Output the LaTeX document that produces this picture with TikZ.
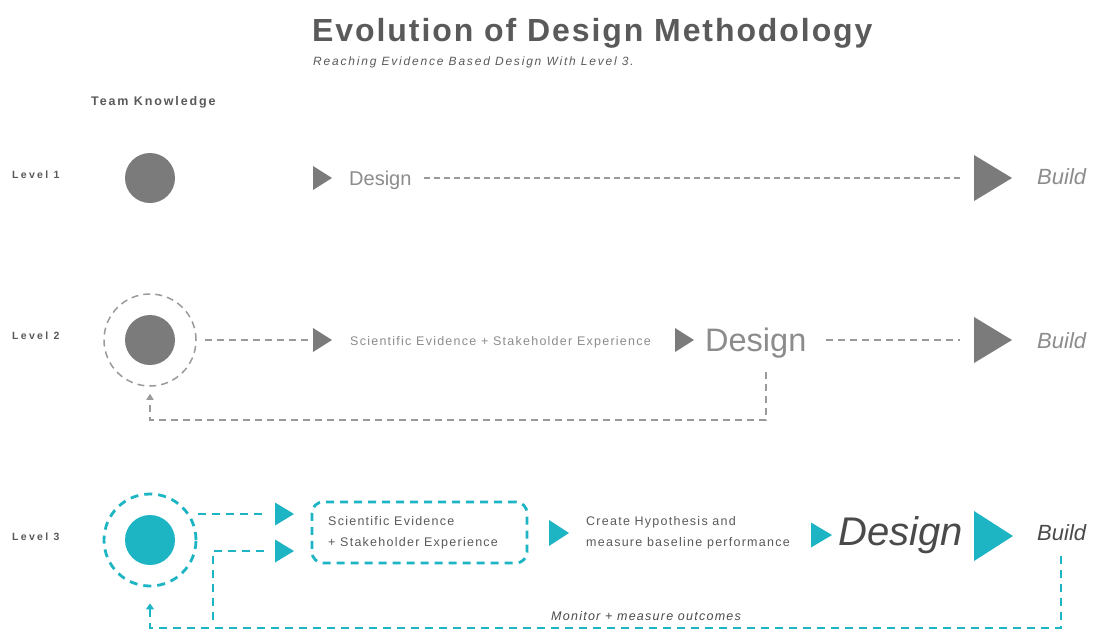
\documentclass[tikz,border=0pt]{standalone}
\usepackage{fontspec}
\usetikzlibrary{arrows.meta}
\setmainfont{Liberation Sans}
\newfontfamily\fTitle[LetterSpace=6]{Liberation Sans}
\newfontfamily\fSub[LetterSpace=15]{Liberation Sans}
\newfontfamily\fTeam[LetterSpace=15]{Liberation Sans}
\newfontfamily\fLev[LetterSpace=22]{Liberation Sans}
\newfontfamily\fTxt[LetterSpace=10]{Liberation Sans}
\definecolor{teal3}{RGB}{29,181,196}
\definecolor{dot}{HTML}{7B7B7B}
\definecolor{lgray}{HTML}{8C8C8C}
\definecolor{dgray}{HTML}{4A4A4A}
\definecolor{mgray}{HTML}{5A5A5A}
\definecolor{dgl}{HTML}{9A9A9A}
\newcommand\trih[5]{\fill[#5] (#1,{#2-#4/2}) -- ({#1+#3},#2) -- (#1,{#2+#4/2}) -- cycle;}
\begin{document}
\begin{tikzpicture}[x=1pt,y=-1pt,
  txt/.style={inner sep=0pt, anchor=base west},
  twoline/.style={inner sep=0pt, anchor=north west, align=left, font=\fTxt\fontsize{12.5}{21}\selectfont},
  dotnode/.style={circle, inner sep=0pt, minimum size=50pt, fill=#1},
  ring/.style={circle, inner sep=0pt, minimum size=92pt},
  dashA/.style={draw=dgl, line width=1.2pt, dash pattern=on 6pt off 4pt},
  dashB/.style={draw=dgl, line width=1.5pt, dash pattern=on 7pt off 5pt},
  dashC/.style={draw=teal3, line width=2.8pt, dash pattern=on 8pt off 6pt},
  evbox/.style={draw=teal3, line width=2.8pt, dash pattern=on 8pt off 6pt, rounded corners=11pt, minimum width=215pt, minimum height=61pt, inner sep=0pt}
]
\useasboundingbox (0,0) rectangle (1098,633);
\fill[white] (0,0) rectangle (1098,633);

% titles
\node[txt, text=mgray] (title) at (312,41) {\fTitle\bfseries\fontsize{32}{38}\selectfont Evolution of Design Methodology};
\node[txt, text=mgray] (sub) at (313,65) {\fSub\itshape\fontsize{12}{14}\selectfont Reaching Evidence Based Design With Level 3.};
\node[txt, text=mgray] (team) at (91,105) {\fTeam\bfseries\fontsize{12.5}{14}\selectfont Team Knowledge};

% level labels
\node[txt, text=mgray] (lev1) at (12,178) {\fLev\bfseries\fontsize{10.5}{12}\selectfont Level 1};
\node[txt, text=mgray] (lev2) at (12,339) {\fLev\bfseries\fontsize{10.5}{12}\selectfont Level 2};
\node[txt, text=mgray] (lev3) at (12,540) {\fLev\bfseries\fontsize{10.5}{12}\selectfont Level 3};

% ---------- Level 1
\node[dotnode=dot] (c1) at (150,178) {};
\trih{313}{178}{19}{24}{dot}
\node[txt, text=lgray] (d1) at (349,185) {\fontsize{20}{24}\selectfont Design};
\trih{974}{178}{38}{46}{dot}
\coordinate (b1in) at (960,178);
\node[txt, text=lgray] (b1) at (1037,184) {\itshape\fontsize{22}{26}\selectfont Build};
\draw[dashA] ([xshift=12pt]d1.east |- 0,178) -- (b1in);

% ---------- Level 2
\node[dotnode=dot] (c2) at (150,340) {};
\node[ring, dashB] (r2) at (150,340) {};
\coordinate (t2a) at (311,340);
\trih{313}{340}{19}{24}{dot}
\draw[dashB] ([xshift=8pt]r2.east) -- (t2a);
\node[txt, text=lgray] (se2) at (350,345) {\fTxt\fontsize{12.5}{15}\selectfont Scientific Evidence + Stakeholder Experience};
\trih{675}{340}{19}{24}{dot}
\node[txt, text=lgray] (d2) at (705,351) {\fontsize{32.5}{38}\selectfont Design};
\trih{974}{340}{38}{46}{dot}
\coordinate (b2in) at (960,340);
\node[txt, text=lgray] (b2) at (1037,348) {\itshape\fontsize{22}{26}\selectfont Build};
\draw[dashB] (826,340) -- (b2in);
\coordinate (fb2) at (766,372);
\draw[dashB, -{Triangle[width=7pt,length=6pt]}] (fb2) |- (150,420) -- ([yshift=-7pt]r2.south);

% ---------- Level 3
\node[dotnode=teal3] (c3) at (150,540) {};
\node[ring, dashC] (r3) at (150,540) {};
\trih{275}{514}{19}{23}{teal3}
\trih{275}{551}{19}{23}{teal3}
\coordinate (t3a) at (266,514);
\coordinate (t3b) at (266,551);
\draw[dashC] (198,514) -- (t3a);
\node[evbox] (box) at (419.5,532.5) {};
\node[twoline, text=mgray] (boxt) at (328,516) {Scientific Evidence\\+ Stakeholder Experience};
\trih{549}{533}{20}{26}{teal3}
\node[twoline, text=mgray] (hyp) at (586,516) {Create Hypothesis and\\measure baseline performance};
\trih{811}{535}{21}{25}{teal3}
\node[txt, text=dgray] (d3) at (838,545) {\itshape\fontsize{40}{46}\selectfont Design};
\trih{974}{536}{39}{50}{teal3}
\node[txt, text=dgray] (b3) at (1037,540) {\itshape\fontsize{22}{26}\selectfont Build};
\coordinate (fb3) at (1061,556);
\coordinate (bl) at (150,628);
\draw[dashC, -{Triangle[width=8pt,length=6pt]}] (fb3) |- (bl) -- ([yshift=-16pt]r3.south);
\draw[dashC] (213,620) -- (213,551) -- (t3b);
\node[txt, text=dgray] (mon) at (551,620) {\fTxt\itshape\fontsize{12.5}{15}\selectfont Monitor + measure outcomes};
\end{tikzpicture}
\end{document}
